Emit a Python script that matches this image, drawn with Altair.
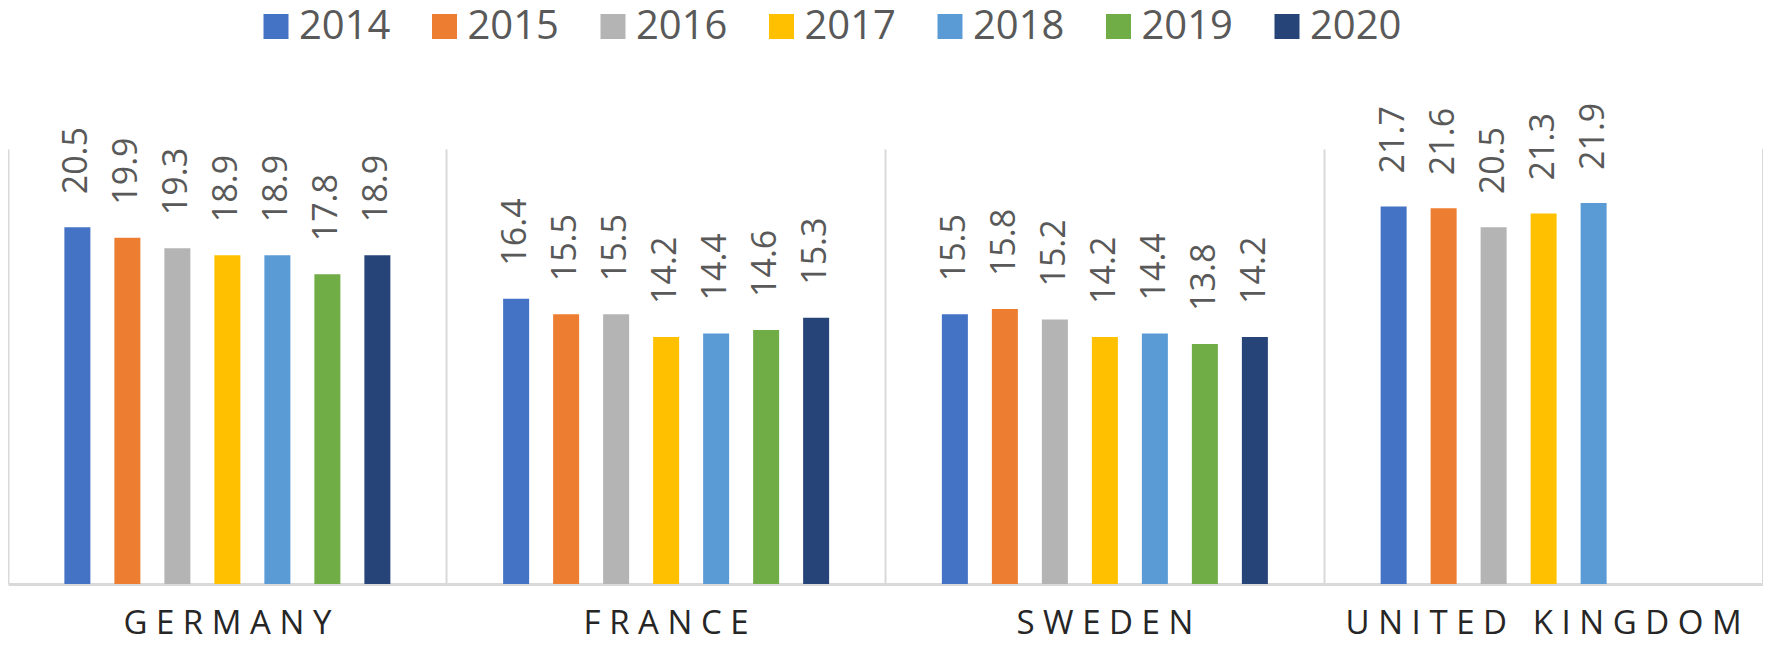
import altair as alt
import pandas as pd

countries = ["GERMANY", "FRANCE", "SWEDEN", "UNITED KINGDOM"]
years = ["2014", "2015", "2016", "2017", "2018", "2019", "2020"]
colors = ["#4472c4", "#ed7d31", "#b4b4b4", "#ffc000", "#5b9bd5", "#70ad47", "#264478"]

germany = [20.5, 19.9, 19.3, 18.9, 18.9, 17.8, 18.9]
france = [16.4, 15.5, 15.5, 14.2, 14.4, 14.6, 15.3]
sweden = [15.5, 15.8, 15.2, 14.2, 14.4, 13.8, 14.2]
united_kingdom = [21.7, 21.6, 20.5, 21.3, 21.9]

series = {"GERMANY": germany, "FRANCE": france, "SWEDEN": sweden, "UNITED KINGDOM": united_kingdom}
rows = []
for c in countries:
    for y, v in zip(years, series[c]):
        rows.append({"country": c, "year": y, "value": v})
df = pd.DataFrame(rows)

W, H = 1755, 435
FONT = "Open Sans"
NBSP = "\u00a0"

x_enc = alt.X(
    "country:N",
    sort=countries,
    title=None,
    scale=alt.Scale(paddingInner=0, paddingOuter=0),
    axis=alt.Axis(
        labelAngle=0,
        labelFont=FONT,
        labelFontSize=33,
        labelColor="#262626",
        labelBaseline="alphabetic",
        labelPadding=49,
        labelLimit=0,
        labelExpr="join(split(replace(datum.label, ' ', '" + NBSP + "'), ''), ' ')",
        ticks=False,
        grid=True,
        bandPosition=0,
        gridColor="#d9d9d9",
        gridWidth=2,
        domainColor="#d9d9d9",
        domainWidth=3,
    ),
)
xo_enc = alt.XOffset(
    "year:N",
    sort=years,
    scale=alt.Scale(domain=years, paddingInner=0.225, paddingOuter=1),
)
y_enc = alt.Y("value:Q", scale=alt.Scale(domain=[0, 25]), axis=None, title=None)

base = alt.Chart(df).encode(x=x_enc, xOffset=xo_enc, y=y_enc)

bars = base.mark_bar(width=26).encode(
    color=alt.Color(
        "year:N",
        sort=years,
        scale=alt.Scale(domain=years, range=colors),
        legend=alt.Legend(
            title=None,
            orient="none",
            direction="horizontal",
            columns=7,
            legendX=248,
            legendY=-142.5,
            padding=0,
            symbolType="square",
            symbolSize=625,
            symbolStrokeWidth=0,
            symbolOpacity=1,
            labelFont=FONT,
            labelFontSize=40,
            labelColor="#595959",
            labelOffset=3,
            columnPadding=33.5,
        ),
    )
)

labels = base.mark_text(
    angle=270,
    align="left",
    baseline="middle",
    dx=33,
    font=FONT,
    fontSize=34,
    color="#595959",
).encode(text=alt.Text("value:Q", format=".1f"))

right_edge = (
    alt.Chart(df)
    .transform_filter(alt.datum.country == countries[-1])
    .transform_filter(alt.datum.year == years[0])
    .mark_rule(color="#d9d9d9", strokeWidth=2)
    .encode(
        x=alt.X("country:N", sort=countries, bandPosition=1),
        y=alt.value(0),
        y2=alt.value(H),
    )
)

chart = (
    alt.layer(bars, labels, right_edge)
    .properties(
        width=W,
        height=H,
        autosize=alt.AutoSizeParams(type="none"),
        padding={"left": 0, "top": 141, "right": 0, "bottom": 60},
    )
    .configure_view(stroke=None)
)

chart.save("out.html", embed_options={"renderer": "svg", "actions": False})
